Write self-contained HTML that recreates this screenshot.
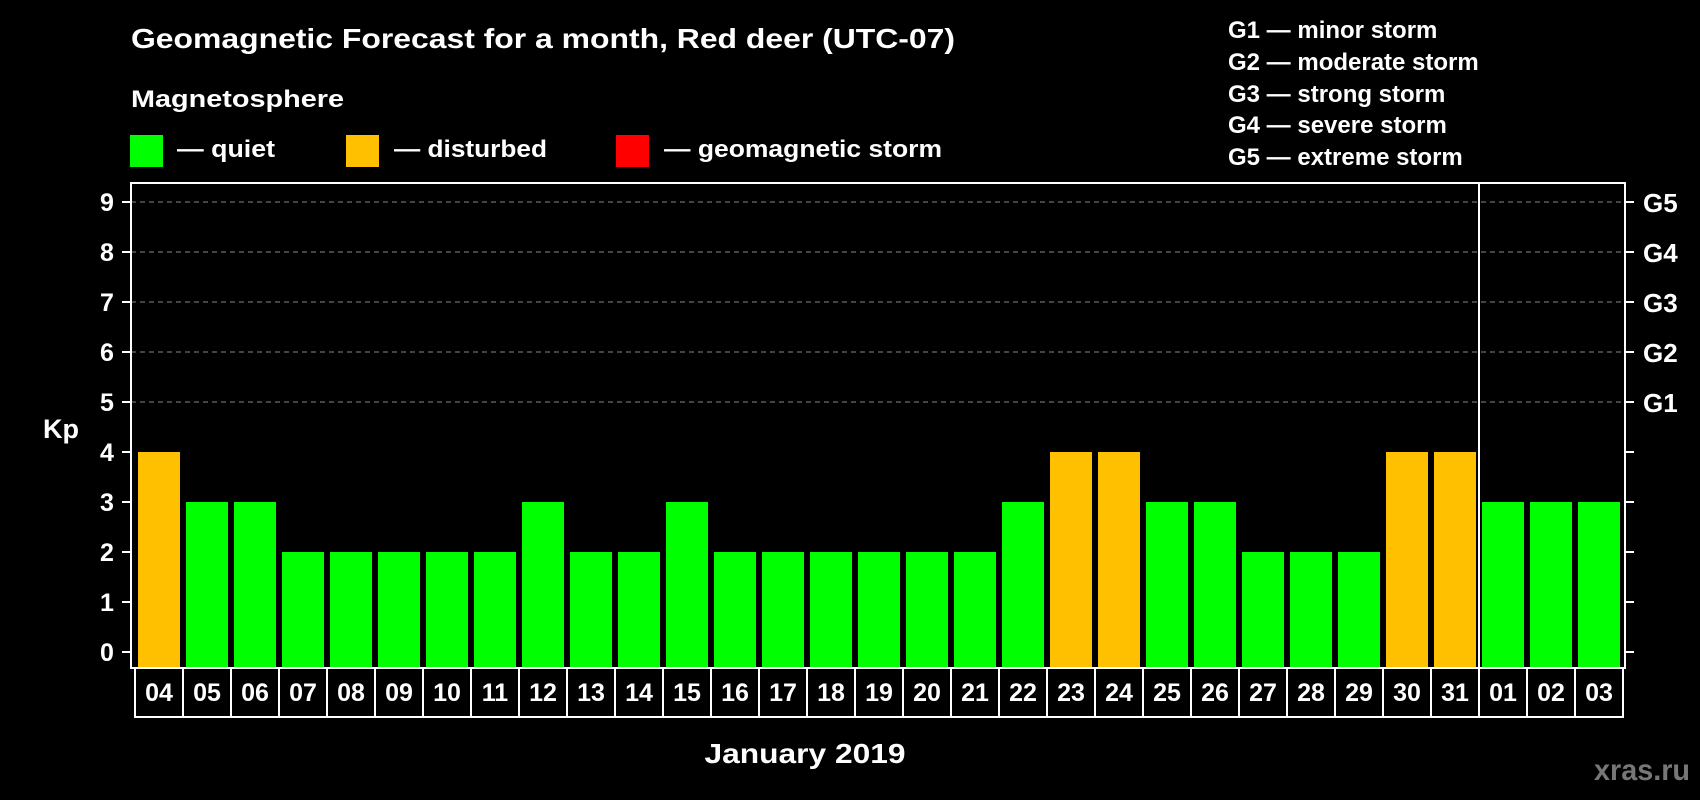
<!DOCTYPE html>
<html><head><meta charset="utf-8"><style>
html,body{margin:0;padding:0;background:#000;}
svg{display:block;font-family:"Liberation Sans",Arial,sans-serif;font-weight:bold;}
</style></head><body>
<svg id="chart" width="1700" height="800" viewBox="0 0 1700 800" xmlns="http://www.w3.org/2000/svg">
<rect width="1700" height="800" fill="#000"/>
<text x="131" y="48" fill="#fff" font-size="28" textLength="824" lengthAdjust="spacingAndGlyphs">Geomagnetic Forecast for a month, Red deer (UTC-07)</text>
<text x="131" y="107" fill="#fff" font-size="24" textLength="213" lengthAdjust="spacingAndGlyphs">Magnetosphere</text>
<g>
<rect x="130" y="135" width="33" height="32" fill="#00ff00"/>
<text x="177" y="157" fill="#fff" font-size="24" textLength="98" lengthAdjust="spacingAndGlyphs">— quiet</text></g>
<g>
<rect x="346" y="135" width="33" height="32" fill="#ffc000"/>
<text x="394" y="157" fill="#fff" font-size="24" textLength="153" lengthAdjust="spacingAndGlyphs">— disturbed</text></g>
<g>
<rect x="616" y="135" width="33" height="32" fill="#ff0000"/>
<text x="664" y="157" fill="#fff" font-size="24" textLength="278" lengthAdjust="spacingAndGlyphs">— geomagnetic storm</text></g>
<g fill="#fff" font-size="24">
<text x="1228" y="38">G1 — minor storm</text>
<text x="1228" y="70">G2 — moderate storm</text>
<text x="1228" y="102">G3 — strong storm</text>
<text x="1228" y="133">G4 — severe storm</text>
<text x="1228" y="165">G5 — extreme storm</text>
</g>
<text x="43" y="438" fill="#fff" font-size="27">Kp</text>
<text x="805" y="763" fill="#fff" font-size="28" text-anchor="middle" textLength="201" lengthAdjust="spacingAndGlyphs">January 2019</text>
<text x="1690" y="780" fill="#777" font-size="30" text-anchor="end" textLength="96" lengthAdjust="spacingAndGlyphs">xras.ru</text>
<g id="grid"></g><g id="bars"></g><g id="axes"></g><g id="labels"></g>
</svg>
<script>
const days = ["04","05","06","07","08","09","10","11","12","13","14","15","16","17","18","19","20","21","22","23","24","25","26","27","28","29","30","31","01","02","03"];
const kpValues = [4,3,3,2,2,2,2,2,3,2,2,3,2,2,2,2,2,2,3,4,4,3,3,2,2,2,4,4,3,3,3];
const yTicks = [0,1,2,3,4,5,6,7,8,9];
const gLabels = ["G1","G2","G3","G4","G5"];
const monthBreakIndex = 28;

const NS = "http://www.w3.org/2000/svg";
const L = 131, R = 1625, T = 183, B = 668;
const y = v => 652 - v * 50;
const xBar = i => 138 + i * 48;
const BW = 42;
function mk(tag, attrs, parent) {
  const e = document.createElementNS(NS, tag);
  for (const k in attrs) e.setAttribute(k, attrs[k]);
  parent.appendChild(e); return e;
}
const grid = document.getElementById("grid"), bars = document.getElementById("bars"),
      axes = document.getElementById("axes"), labels = document.getElementById("labels");

yTicks.forEach(v => {
  if (v >= 5) {
    const gl = mk("line", {x1: L, x2: R, y1: y(v), y2: y(v), stroke: "#888", "stroke-width": 1, "stroke-dasharray": "5,4"}, grid);
    
    
  }
  const tl = mk("line", {x1: L - 9, x2: L, y1: y(v), y2: y(v), stroke: "#fff", "stroke-width": 2}, axes);
  
  
  const tr = mk("line", {x1: R, x2: R + 9, y1: y(v), y2: y(v), stroke: "#fff", "stroke-width": 2}, axes);
  
  
  const t = mk("text", {x: 107, y: y(v) + 9, fill: "#fff", "font-size": 25, "text-anchor": "middle"}, labels);
  t.textContent = v;
  
  
});
gLabels.forEach((g, i) => {
  const t = mk("text", {x: 1643, y: y(5 + i) + 10, fill: "#fff", "font-size": 26}, labels);
  t.textContent = g;
  
  
});
kpValues.forEach((v, i) => {
  const col = v >= 5 ? "#ff0000" : (v >= 4 ? "#ffc000" : "#00ff00");
  const r = mk("rect", {x: xBar(i), y: y(v), width: BW, height: B - y(v) - 1, fill: col}, bars);
  
  
  const cell = mk("rect", {x: 135 + i * 48, y: 668, width: 48, height: 49, fill: "none", stroke: "#fff", "stroke-width": 2}, axes);
  
  
  const t = mk("text", {x: 159 + i * 48, y: 701, fill: "#fff", "font-size": 25, "text-anchor": "middle"}, labels);
  t.textContent = days[i];
  
  
});
const frame = mk("rect", {x: L, y: T, width: R - L, height: B - T, fill: "none", stroke: "#fff", "stroke-width": 2}, axes);


const sepX = (xBar(monthBreakIndex - 1) + BW + xBar(monthBreakIndex)) / 2;
const sep = mk("line", {x1: sepX, x2: sepX, y1: T, y2: 717, stroke: "#fff", "stroke-width": 2}, axes);


</script>
</body></html>
